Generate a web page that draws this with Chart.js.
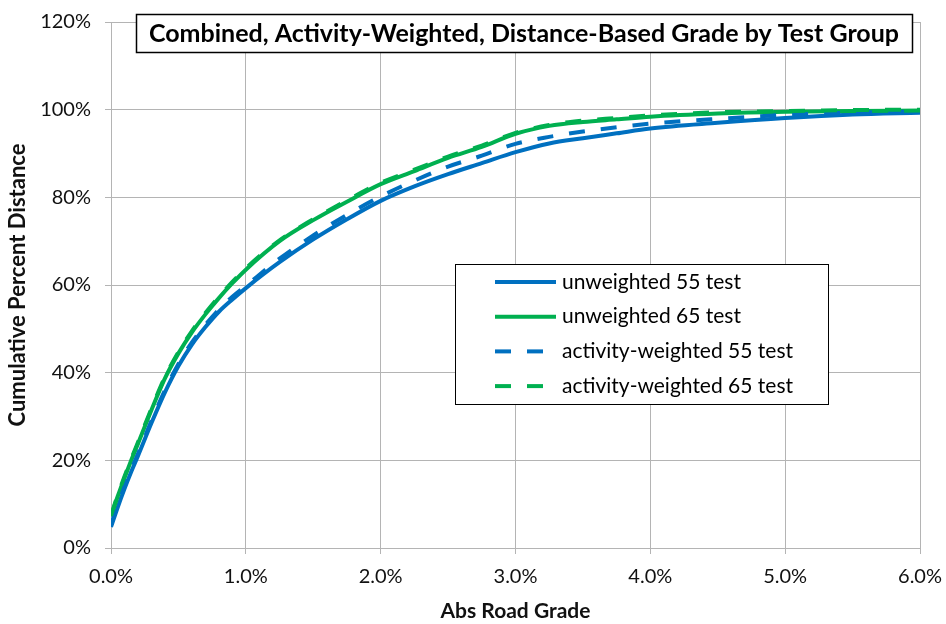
<!DOCTYPE html>
<html>
<head>
<meta charset="utf-8">
<script src="https://cdn.jsdelivr.net/npm/chart.js@4/dist/chart.umd.min.js"></script>
<style>
html,body{margin:0;padding:0;background:#fff;}
#wrap{width:946px;height:624px;position:relative;}
</style>
</head>
<body>
<div id="wrap"><canvas id="c" width="946" height="624"></canvas></div>
<script>
const chartTitle = "Combined, Activity-Weighted, Distance-Based Grade by Test Group";
const xAxisTitle = "Abs Road Grade";
const yAxisTitle = "Cumulative Percent Distance";
const seriesNames = ["unweighted 55 test", "unweighted 65 test", "activity-weighted 55 test", "activity-weighted 65 test"];

// abs road grade (%)
const grade = [0, 0.05, 0.1, 0.15, 0.2, 0.3, 0.4, 0.5, 0.6, 0.7, 0.8, 0.9, 1.0, 1.25, 1.5, 1.75, 2.0, 2.25, 2.5, 2.75, 3.0, 3.25, 3.5, 3.75, 4.0, 4.5, 5.0, 5.5, 6.0];
// cumulative percent distance (%)
const unweighted55 = [4.8, 9.3, 13.5, 17.4, 21.0, 28.5, 35.5, 41.5, 46.4, 50.4, 53.9, 56.7, 59.3, 65.2, 70.4, 75.0, 79.2, 82.5, 85.3, 87.8, 90.3, 92.3, 93.5, 94.6, 95.7, 97.0, 98.1, 98.9, 99.3];
const unweighted65 = [7.2, 11.8, 16.0, 20.0, 23.8, 31.5, 38.7, 44.4, 49.2, 53.3, 57.0, 60.4, 63.5, 70.0, 74.8, 79.0, 83.0, 86.0, 89.0, 91.5, 94.5, 96.3, 97.2, 97.8, 98.4, 99.1, 99.5, 99.7, 99.8];
const weighted55 = [5.3, 9.8, 14.0, 17.9, 21.5, 29.0, 36.0, 42.0, 46.9, 50.9, 54.4, 57.3, 59.8, 66.0, 71.3, 76.0, 80.2, 83.8, 87.0, 89.5, 92.2, 93.8, 95.0, 96.0, 96.8, 97.9, 98.8, 99.3, 99.6];
const weighted65 = [7.4, 12.1, 16.3, 20.3, 24.1, 31.8, 39.0, 44.7, 49.5, 53.6, 57.3, 60.7, 63.8, 70.2, 75.0, 79.3, 83.3, 86.3, 89.3, 91.8, 94.7, 96.5, 97.5, 98.1, 98.7, 99.4, 99.7, 99.9, 100.0];

const xTicks = [0, 1, 2, 3, 4, 5, 6];
const yTicks = [0, 20, 40, 60, 80, 100, 120];

const BLUE = "#0070C0", GREEN = "#00B050", GRID = "#b4b4b4";
const FONT = "Lato, 'Open Sans', sans-serif";

function pts(ys){ return grade.map((g,i)=>({x:g, y:ys[i]})); }

const titlePlugin = {
  id: "titleBox",
  afterDraw(chart){
    const ctx = chart.ctx;
    ctx.save();
    ctx.font = "bold 25px " + FONT;
    const cx = 524, cy = 33;
    const bw = 776, bh = 38;
    ctx.fillStyle = "#fff";
    ctx.fillRect(cx - bw/2, cy - bh/2, bw, bh);
    ctx.strokeStyle = "#000";
    ctx.lineWidth = 1.5;
    ctx.strokeRect(Math.round(cx - bw/2)+0.5, Math.round(cy - bh/2)+0.5, bw, bh);
    ctx.fillStyle = "#000";
    ctx.textAlign = "center";
    ctx.textBaseline = "middle";
    ctx.fillText(chartTitle, cx, cy + 1);
    ctx.restore();
  }
};

const legendPlugin = {
  id: "legendBox",
  afterDraw(chart){
    const ctx = chart.ctx;
    ctx.save();
    const bx = 455.5, by = 264.5, bw = 373, bh = 140;
    ctx.fillStyle = "#fff";
    ctx.fillRect(bx, by, bw, bh);
    ctx.strokeStyle = "#000";
    ctx.lineWidth = 1;
    ctx.strokeRect(bx, by, bw, bh);
    ctx.font = "21px " + FONT;
    ctx.textBaseline = "middle";
    ctx.textAlign = "left";
    chart.data.datasets.forEach((ds, i) => {
      const y = 282 + i * 34.7;
      ctx.beginPath();
      ctx.setLineDash(ds.borderDash || []);
      ctx.strokeStyle = ds.borderColor;
      ctx.lineWidth = ds.borderWidth;
      ctx.moveTo(495, y);
      ctx.lineTo(556, y);
      ctx.stroke();
      ctx.setLineDash([]);
      ctx.fillStyle = "#000";
      ctx.fillText(ds.label, 562, y);
    });
    ctx.restore();
  }
};

new Chart(document.getElementById("c"), {
  type: "line",
  data: {
    datasets: [
      {label: seriesNames[0], data: pts(unweighted55), borderColor: BLUE, borderWidth: 4, borderDash: [], order: 4},
      {label: seriesNames[1], data: pts(unweighted65), borderColor: GREEN, borderWidth: 4, borderDash: [], order: 3},
      {label: seriesNames[2], data: pts(weighted55), borderColor: BLUE, borderWidth: 4, borderDash: [16, 16], order: 2},
      {label: seriesNames[3], data: pts(weighted65), borderColor: GREEN, borderWidth: 4, borderDash: [16, 16], order: 1}
    ]
  },
  options: {
    responsive: false,
    animation: false,
    devicePixelRatio: 1,
    layout: {padding: {top: 22, right: 26, left: 0, bottom: 0}},
    elements: {
      point: {radius: 0},
      line: {cubicInterpolationMode: "monotone", fill: false, borderCapStyle: "butt"}
    },
    plugins: {legend: {display: false}, tooltip: {enabled: false}, title: {display: false}},
    scales: {
      x: {
        type: "linear", min: 0, max: 6,
        afterBuildTicks(s){ s.ticks = xTicks.map(v=>({value:v})); },
        afterFit(s){ s.height = 76; s.paddingLeft = 0; s.paddingRight = 0; },
        ticks: {callback: v => v.toFixed(1) + "%", color: "#111", font: {family: FONT, size: 20}, padding: 11, maxRotation: 0},
        grid: {color: GRID, lineWidth: 1, tickLength: 6, drawTicks: true},
        border: {color: GRID, width: 1},
        title: {display: true, text: xAxisTitle, color: "#111", font: {family: FONT, size: 21, weight: "bold"}, padding: {top: 2, bottom: 0}}
      },
      y: {
        type: "linear", min: 0, max: 120,
        afterBuildTicks(s){ s.ticks = yTicks.map(v=>({value:v})); },
        afterFit(s){ s.width = 111; s.paddingTop = 0; s.paddingBottom = 0; },
        ticks: {callback: v => v + "%", color: "#111", font: {family: FONT, size: 20}, padding: 14},
        grid: {color: GRID, lineWidth: 1, tickLength: 6, drawTicks: true},
        border: {color: GRID, width: 1},
        title: {display: true, text: yAxisTitle, color: "#111", font: {family: FONT, size: 22, weight: "bold"}, padding: {top: 5, bottom: 2}}
      }
    }
  },
  plugins: [legendPlugin, titlePlugin]
});
</script>
</body>
</html>
